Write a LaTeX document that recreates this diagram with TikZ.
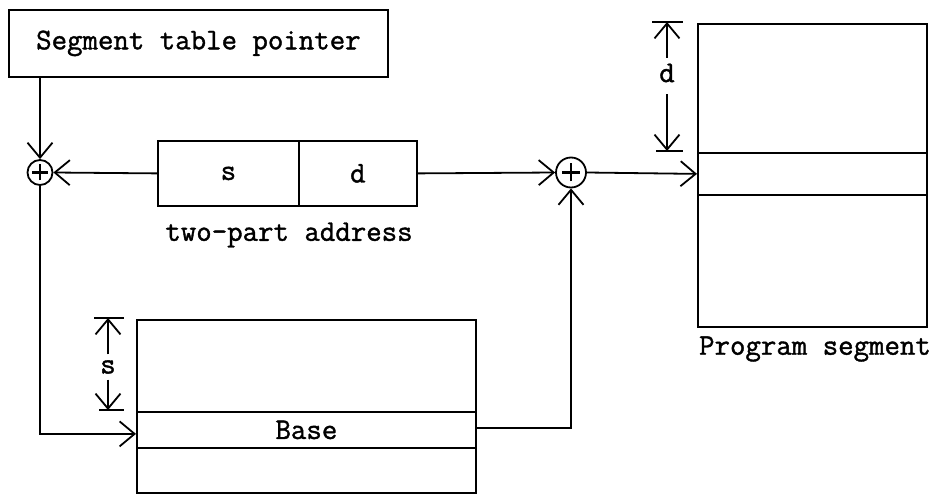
\documentclass[tikz,border=0pt]{standalone}
\usepackage{fontspec}
\newfontfamily\typefont[FakeBold=1.3]{Latin Modern Mono}
\usetikzlibrary{arrows.meta,calc}
\begin{document}
\begin{tikzpicture}[x=1pt,y=-1pt,line width=1.8pt,
  tip/.style={-{Straight Barb[length=15pt,width=25pt,line width=1.8pt]}},
  lbl/.style={font=\fontsize{30}{34}\selectfont\typefont,inner sep=0pt,outer sep=0pt},
  cell/.style={draw,inner sep=0pt,anchor=north west,font=\fontsize{30}{34}\selectfont\typefont},
  adder/.style={circle,draw,inner sep=0pt,
    path picture={
      \draw[line width=2.2pt] ($(path picture bounding box.center)+(-#1,0)$) -- ($(path picture bounding box.center)+(#1,0)$);
      \draw[line width=2.2pt] ($(path picture bounding box.center)+(0,-#1)$) -- ($(path picture bounding box.center)+(0,#1)$);
    }},
  bar/.style={line width=1.8pt}]
\useasboundingbox (0,0) rectangle (947,494);
% Segment table pointer
\node[cell,minimum width=379pt,minimum height=67pt] (stp) at (8,9) {Segment table pointer};
% two-part address
\node[cell,minimum width=141pt,minimum height=65pt] (sa) at (157,140) {s};
\node[cell,minimum width=118pt,minimum height=65pt] (da) at (298,140) {d};
\node[lbl] (tpa) at (289,235) {two-part address};
% adders
\node[adder=8pt,minimum size=25pt] (la) at (40,172.5) {};
\node[adder=9pt,minimum size=30pt] (ra) at (571,172.5) {};
% Program segment
\node[cell,minimum width=229pt,minimum height=129pt] (ptop) at (697,23) {};
\node[cell,minimum width=229pt,minimum height=42pt] (pmid) at (697,152) {};
\node[cell,minimum width=229pt,minimum height=132pt] (pbot) at (697,194) {};
\node[lbl] (plab) at (815,349) {Program segment};
% Base table
\node[cell,minimum width=339pt,minimum height=92pt] (btop) at (136,319) {};
\node[cell,minimum width=339pt,minimum height=36pt] (bmid) at (136,411) {Base};
\node[cell,minimum width=339pt,minimum height=45pt] (bbot) at (136,447) {};
% connectors
\draw[tip] (la |- stp.south) -- (la.north);
\draw[tip] (sa.west) -- (la.east);
\draw[tip] (da.east) -- (ra.west);
\draw[tip] (ra.east) -- (pmid.west);
\draw[tip] (la.south) |- ([yshift=-4pt]bmid.west);
\draw[tip] ([yshift=2pt]bmid.east) -| (ra.south);
% d dimension
\coordinate (dt) at (667,22);
\coordinate (db) at (667,151);
\node[lbl] (dl) at (667,73) {d};
\draw[bar] (652,22) -- (683,22);
\draw[bar] (656,151) -- (683,151);
\draw[tip,shorten <=6pt] (dl.north) -- (dt);
\draw[tip,shorten <=12pt] (dl.south) -- (db);
% s dimension
\coordinate (st) at (108,318);
\coordinate (sb) at (108,410);
\node[lbl] (sl) at (108,367) {s};
\draw[bar] (94,318) -- (124,318);
\draw[bar] (99,410) -- (124,410);
\draw[tip,shorten <=6pt] (sl.north) -- (st);
\draw[tip,shorten <=6pt] (sl.south) -- (sb);
\end{tikzpicture}
\end{document}
